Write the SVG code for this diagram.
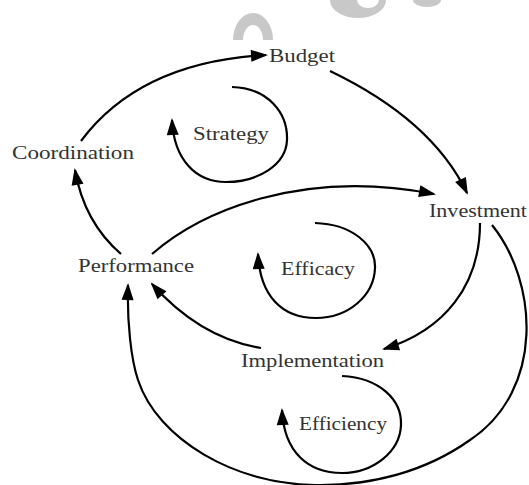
<svg xmlns="http://www.w3.org/2000/svg" width="529" height="485" viewBox="0 0 529 485">
<style>
.lbl{font-family:"Liberation Serif","Times New Roman",serif;font-size:19px;fill:#333}
.c{fill:none;stroke:#000;stroke-width:2.2;marker-end:url(#ah)}
.wm{fill:#c8c8c8;fill-rule:evenodd}
</style>
<defs>
<marker id="ah" markerUnits="userSpaceOnUse" markerWidth="18" markerHeight="13" refX="15" refY="6" orient="auto" overflow="visible">
<path d="M0,0 L17,6 L0,12 z" fill="#000"/>
</marker>
</defs>
<rect width="529" height="485" fill="#fff"/>
<g id="watermark">
<path class="wm" d="M233,40 A20,27 0 0 1 273,40 Z M243,40 A10,15 0 0 1 263,40 Z"/>
<path class="wm" d="M330,0 A28,18 0 0 0 386,0 Z M357,0 A11,8 0 0 0 379,0 Z"/>
<path class="wm" d="M413,0 A14,7 0 0 0 441,0 Z"/>
</g>
<g id="connectors">
<path class="c" d="M81,141 Q140,62 266,55"/>
<path class="c" d="M330,71 Q432,120 467,193"/>
<path class="c" d="M152,254 C200,212 300,168 434,194"/>
<path class="c" d="M121,254 Q84,222 75,170"/>
<path class="c" d="M480,223 C480,285 445,330 384,349"/>
<path class="c" d="M492,225 C538,282 545,390 470,440 C425,472 370,486 315,485 C235,484 158,440 138,380 C131,359 127,322 128,285"/>
<path class="c" d="M261,348 Q200,338 152,284"/>
<path class="c" d="M232,87 C268,88 288,113 287,140 C286,165 258,182 226,182 C196,182 174,160 172,120"/>
<path class="c" d="M315,223 C352,224 376,245 375,268 C374,296 348,318 316,318 C282,318 260,296 258,254"/>
<path class="c" d="M342,376 C380,378 402,400 401,425 C400,452 373,473 342,473 C308,473 284,452 282,410"/>
</g>
<g id="budget"><text class="lbl" x="269" y="62" textLength="66" lengthAdjust="spacingAndGlyphs">Budget</text></g>
<g id="strategy"><text class="lbl" x="193" y="140" textLength="76" lengthAdjust="spacingAndGlyphs">Strategy</text></g>
<g id="coordination"><text class="lbl" x="12" y="159" textLength="122" lengthAdjust="spacingAndGlyphs">Coordination</text></g>
<g id="investment"><text class="lbl" x="429" y="217" textLength="98" lengthAdjust="spacingAndGlyphs">Investment</text></g>
<g id="performance"><text class="lbl" x="78" y="272" textLength="116" lengthAdjust="spacingAndGlyphs">Performance</text></g>
<g id="efficacy"><text class="lbl" x="281" y="275" textLength="74" lengthAdjust="spacingAndGlyphs">Efficacy</text></g>
<g id="implementation"><text class="lbl" x="241" y="367" textLength="143" lengthAdjust="spacingAndGlyphs">Implementation</text></g>
<g id="efficiency"><text class="lbl" x="299" y="430" textLength="88" lengthAdjust="spacingAndGlyphs">Efficiency</text></g>
</svg>
